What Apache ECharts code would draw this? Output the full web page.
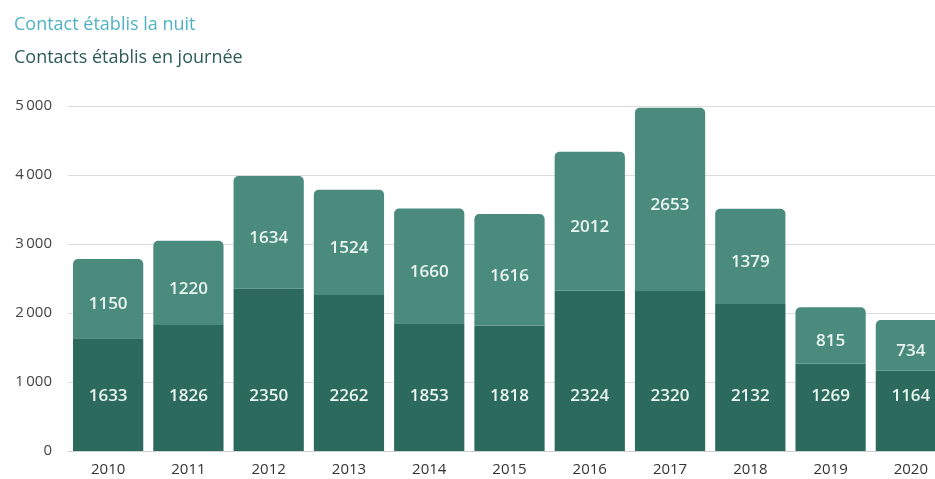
<!DOCTYPE html>
<html>
<head>
<meta charset="utf-8">
<script src="https://cdn.jsdelivr.net/npm/echarts@6/dist/echarts.min.js"></script>
<style>html,body{margin:0;padding:0;background:#fff}#c{width:935px;height:479px}</style>
</head>
<body>
<div id="c"></div>
<script>
const years = ['2010','2011','2012','2013','2014','2015','2016','2017','2018','2019','2020'];
const jour = [1633,1826,2350,2262,1853,1818,2324,2320,2132,1269,1164];
const nuit = [1150,1220,1634,1524,1660,1616,2012,2653,1379,815,734];
const yTicks = [0,1000,2000,3000,4000,5000];
const seriesNames = ['Contact établis la nuit','Contacts établis en journée'];

const chart = echarts.init(document.getElementById('c'));
const font = '"Open Sans", sans-serif';
chart.setOption({
  animation:false,
  title:[
    {text:seriesNames[0], left:9, top:11, textStyle:{fontFamily:font,fontSize:18,fontWeight:'normal',color:'#4fb3c4'}},
    {text:seriesNames[1], left:9, top:44, textStyle:{fontFamily:font,fontSize:18,fontWeight:'normal',color:'#2c5c52'}}
  ],
  grid:{left:68, width:883, top:106, bottom:28, containLabel:false, outerBoundsMode:'none'},
  xAxis:{type:'category', data:years,
    axisLine:{show:true,lineStyle:{color:'#cfcfcf'}}, axisTick:{show:false},
    axisLabel:{fontFamily:font,fontSize:15,color:'#333',margin:11}},
  yAxis:{type:'value', min:0, max:5000, interval:1000,
    axisLine:{show:false}, axisTick:{show:false},
    splitLine:{lineStyle:{color:'#dcdcdc'}},
    axisLabel:{fontFamily:font,fontSize:15,color:'#444',margin:16,
      formatter:v=>yTicks.includes(v)?(v>=1000?String(v).replace(/(\d)(\d{3})$/,'$1\u2009$2'):String(v)):''}},
  series:[
    {name:seriesNames[1], type:'bar', stack:'t', data:jour, barCategoryGap:'12.5%',
      itemStyle:{color:'#2b6a5c'},
      label:{show:true, position:'insideBottom', distance:46, fontFamily:font, fontSize:17, fontWeight:600, color:'#eaf6ef'}},
    {name:seriesNames[0], type:'bar', stack:'t', data:nuit, barCategoryGap:'12.5%',
      itemStyle:{color:'#4b8b7d', borderRadius:[5,5,0,0]},
      label:{show:true, position:'inside', offset:[0,6], fontFamily:font, fontSize:17, fontWeight:600, color:'#eaf6ef'}}
  ]
});
</script>
</body>
</html>
